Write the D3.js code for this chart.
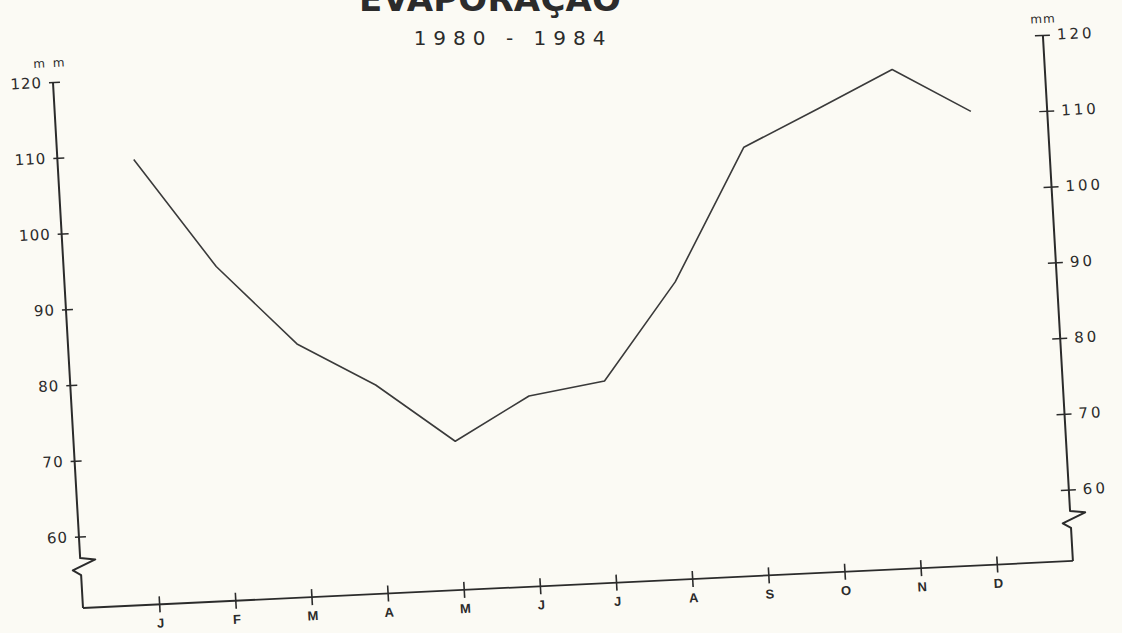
<!DOCTYPE html>
<html>
<head>
<meta charset="utf-8">
<script src="https://cdn.jsdelivr.net/npm/d3@7"></script>
<style>
  html, body { margin: 0; padding: 0; background: #fbfaf4; }
  svg { display: block; }
  .axis text { font-family: 'DejaVu Sans', sans-serif; fill: #2b2b2b; }
  .xaxis text { font-family: 'Liberation Sans', Arial, sans-serif; font-weight: bold; font-size: 13px; }
  .yaxis text { font-size: 15px; letter-spacing: 1px; }
  .yaxis2 text { font-size: 15px; letter-spacing: 3px; }
</style>
</head>
<body>
<div id="chart"></div>
<script>
const months = ['J', 'F', 'M', 'A', 'M', 'J', 'J', 'A', 'S', 'O', 'N', 'D'];
const evap = [109.3, 94.7, 84.0, 78.1, 70.2, 75.7, 77.2, 89.8, 107.1, 111.7, 116.4, 110.4];
const yTicks = [60, 70, 80, 90, 100, 110, 120];
const title = 'EVAPORAÇÃO';
const subtitle = '1980 - 1984';

const width = 1122;
const height = 633;
const ink = '#2b2b2b';
const plotW = 991; // corner to right axis, in the (tilted) chart frame

const svg = d3
  .select('#chart')
  .append('svg')
  .attr('width', width)
  .attr('height', height);

svg
  .append('rect')
  .attr('width', width)
  .attr('height', height)
  .attr('fill', '#fbfaf4');

// title is mostly cut off by the top edge of the scan
svg
  .append('text')
  .attr('x', 490)
  .attr('y', 11)
  .attr('text-anchor', 'middle')
  .attr('textLength', 262)
  .attr('lengthAdjust', 'spacing')
  .style('font-family', 'DejaVu Sans, sans-serif')
  .style('font-weight', 'bold')
  .style('font-size', '34px')
  .attr('fill', ink)
  .text(title);

svg
  .append('text')
  .attr('x', 513)
  .attr('y', 45)
  .attr('text-anchor', 'middle')
  .style('font-family', 'DejaVu Sans, sans-serif')
  .style('font-size', '20px')
  .style('letter-spacing', '7px')
  .attr('fill', ink)
  .text(subtitle);

// the scanned sheet is slightly rotated; draw in a tilted frame with origin at the axes corner
const g = svg
  .append('g')
  .attr('transform', 'matrix(0.9989,-0.0475,0.057,0.998,83,608)');

const x = d3.scalePoint().domain(d3.range(12)).range([0, plotW]).padding(1);
const y = d3.scaleLinear().domain([60, 120]).range([-71.5, -527]);

const breakTop = -50;

function axisLine(u) {
  return d3.line()([
    [u, y(120)],
    [u, breakTop],
    [u + 15, breakTop + 2],
    [u - 8, breakTop + 12],
    [u, breakTop + 17],
    [u, 0]
  ]);
}

// y axis left
g.append('path')
  .attr('d', axisLine(0))
  .attr('fill', 'none')
  .attr('stroke', ink)
  .attr('stroke-width', 2)
  .attr('stroke-linejoin', 'round');

g.append('g')
  .attr('class', 'axis yaxis')
  .call(d3.axisLeft(y).tickValues(yTicks).tickSize(-7).tickPadding(11))
  .call(function (s) {
    s.select('.domain').remove();
    s.selectAll('.tick line').attr('x1', -4).attr('x2', 7).attr('stroke', ink).attr('stroke-width', 1.5);
  });

g.append('text')
  .attr('x', -2)
  .attr('y', -542)
  .attr('text-anchor', 'middle')
  .style('font-family', 'DejaVu Sans, sans-serif')
  .style('font-size', '12px')
  .style('letter-spacing', '2px')
  .attr('fill', ink)
  .text('m m');

// y axis right
g.append('path')
  .attr('d', axisLine(plotW))
  .attr('fill', 'none')
  .attr('stroke', ink)
  .attr('stroke-width', 2)
  .attr('stroke-linejoin', 'round');

g.append('g')
  .attr('class', 'axis yaxis2')
  .attr('transform', `translate(${plotW},0)`)
  .call(d3.axisRight(y).tickValues(yTicks).tickSize(-8).tickPadding(14))
  .call(function (s) {
    s.select('.domain').remove();
    s.selectAll('.tick line').attr('x1', -8).attr('x2', 7).attr('stroke', ink).attr('stroke-width', 1.5);
  });

g.append('text')
  .attr('x', plotW + 1)
  .attr('y', -539)
  .attr('text-anchor', 'middle')
  .style('font-family', 'DejaVu Sans, sans-serif')
  .style('font-size', '12px')
  .style('letter-spacing', '1px')
  .attr('fill', ink)
  .text('mm');

// x axis
g.append('line')
  .attr('x1', 0)
  .attr('x2', plotW)
  .attr('y1', 0)
  .attr('y2', 0)
  .attr('stroke', ink)
  .attr('stroke-width', 1.8);

g.append('g')
  .attr('class', 'axis xaxis')
  .call(
    d3
      .axisBottom(x)
      .tickFormat(function (i) {
        return months[i];
      })
      .tickSize(8)
      .tickPadding(6)
  )
  .call(function (s) {
    s.select('.domain').remove();
    s.selectAll('.tick line').attr('y1', -8).attr('y2', 8).attr('stroke', ink).attr('stroke-width', 1.6);
  });

// evaporation line
const line = d3
  .line()
  .x(function (d, i) {
    return x(i);
  })
  .y(function (d) {
    return y(d);
  });

g.append('path')
  .datum(evap)
  .attr('fill', 'none')
  .attr('stroke', '#3a3a3a')
  .attr('stroke-width', 1.6)
  .attr('stroke-linejoin', 'round')
  .attr('d', line);
</script>
</body>
</html>
